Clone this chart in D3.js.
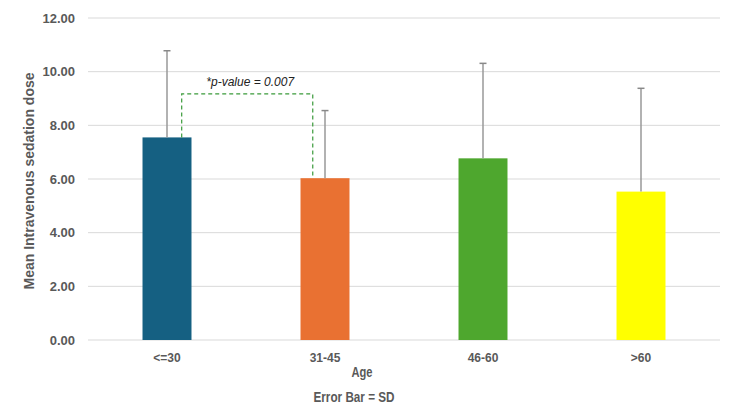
<!DOCTYPE html>
<html><head><meta charset="utf-8">
<script src="https://cdn.jsdelivr.net/npm/d3@7"></script>
<style>body{margin:0;background:#fff}svg{display:block}</style>
</head><body>
<svg id="c" width="739" height="412"></svg>
<script>
const categories = ["<=30", "31-45", "46-60", ">60"];
const means = [7.55, 6.03, 6.77, 5.53];
const sds = [3.23, 2.52, 3.54, 3.85];
const colors = ["#156082", "#E97132", "#4EA72E", "#FFFF00"];
const yTicks = [0, 2, 4, 6, 8, 10, 12];
const bracketLevel = 9.17;
const pLabel = "*p-value = 0.007";

const svg = d3.select("#c");
const font = "'Liberation Sans', Arial, sans-serif";
const mLeft = 88, mRight = 720, mTop = 18, mBottom = 340;

const x = d3.scaleBand().domain(categories).range([mLeft, mRight]).paddingInner(0.69).paddingOuter(0.345);
const y = d3.scaleLinear().domain([0, 12]).range([mBottom, mTop]);

// gridlines
svg.append("g").selectAll("line").data(yTicks).join("line")
  .attr("x1", mLeft).attr("x2", mRight)
  .attr("y1", d => y(d)).attr("y2", d => y(d))
  .attr("stroke", "#d9d9d9").attr("stroke-width", 1);

// y tick labels
const yAxis = d3.axisLeft(y).tickValues(yTicks).tickFormat(d3.format(".2f")).tickSize(0).tickPadding(0);
const ya = svg.append("g").attr("transform", `translate(${mLeft - 13},0)`).call(yAxis);
ya.select(".domain").remove();
ya.selectAll("text").attr("font-family", font).attr("font-size", 13).attr("font-weight", "bold").attr("fill", "#595959");

// bars
svg.append("g").selectAll("rect").data(categories).join("rect")
  .attr("x", d => x(d)).attr("width", x.bandwidth())
  .attr("y", (d, i) => y(means[i])).attr("height", (d, i) => y(0) - y(means[i]))
  .attr("fill", (d, i) => colors[i]);

// error bars (upper only)
const eb = svg.append("g").attr("stroke", "#999").attr("stroke-width", 1.5);
categories.forEach((c, i) => {
  const cx = x(c) + x.bandwidth() / 2;
  eb.append("line").attr("x1", cx).attr("x2", cx).attr("y1", y(means[i])).attr("y2", y(means[i] + sds[i]));
  eb.append("line").attr("x1", cx - 3.5).attr("x2", cx + 3.5).attr("y1", y(means[i] + sds[i])).attr("y2", y(means[i] + sds[i])).attr("stroke", "#888");
});

// bracket
const bx1 = x(categories[0]) + x.bandwidth() * 0.8;
const bx2 = x(categories[1]) + x.bandwidth() * 0.25;
svg.append("path")
  .attr("d", `M${bx1},${y(means[0])}V${y(bracketLevel)}H${bx2}V${y(means[1])}`)
  .attr("fill", "none").attr("stroke", "#3a9a3a").attr("stroke-width", 1.2).attr("stroke-dasharray", "4,3");
svg.append("text").attr("x", (bx1 + bx2) / 2 + 3).attr("y", y(bracketLevel) - 8)
  .attr("text-anchor", "middle").attr("font-family", font).attr("font-size", 12).attr("font-style", "italic")
  .attr("fill", "#222").text(pLabel);

// x labels
const xAxis = d3.axisBottom(x).tickSize(0).tickPadding(0);
const xa = svg.append("g").attr("transform", `translate(0,${mBottom + 22})`).call(xAxis);
xa.select(".domain").remove();
xa.selectAll("text").attr("dy", 0).attr("font-family", font).attr("font-size", 12).attr("font-weight", "bold").attr("fill", "#595959");

svg.append("text").attr("x", 362).attr("y", 377).attr("text-anchor", "middle")
  .attr("font-family", font).attr("font-size", 15).attr("font-weight", "bold").attr("fill", "#595959")
  .attr("textLength", 21).attr("lengthAdjust", "spacingAndGlyphs").text("Age");
svg.append("text").attr("x", 354).attr("y", 402).attr("text-anchor", "middle")
  .attr("font-family", font).attr("font-size", 15).attr("font-weight", "bold").attr("fill", "#595959")
  .attr("textLength", 81).attr("lengthAdjust", "spacingAndGlyphs").text("Error Bar = SD");

svg.append("text").attr("transform", `translate(34,${(mTop + mBottom) / 2 + 2}) rotate(-90)`)
  .attr("text-anchor", "middle").attr("font-family", font).attr("font-size", 14).attr("font-weight", "bold")
  .attr("fill", "#595959").text("Mean Intravenous sedation dose");
</script>
</body></html>
